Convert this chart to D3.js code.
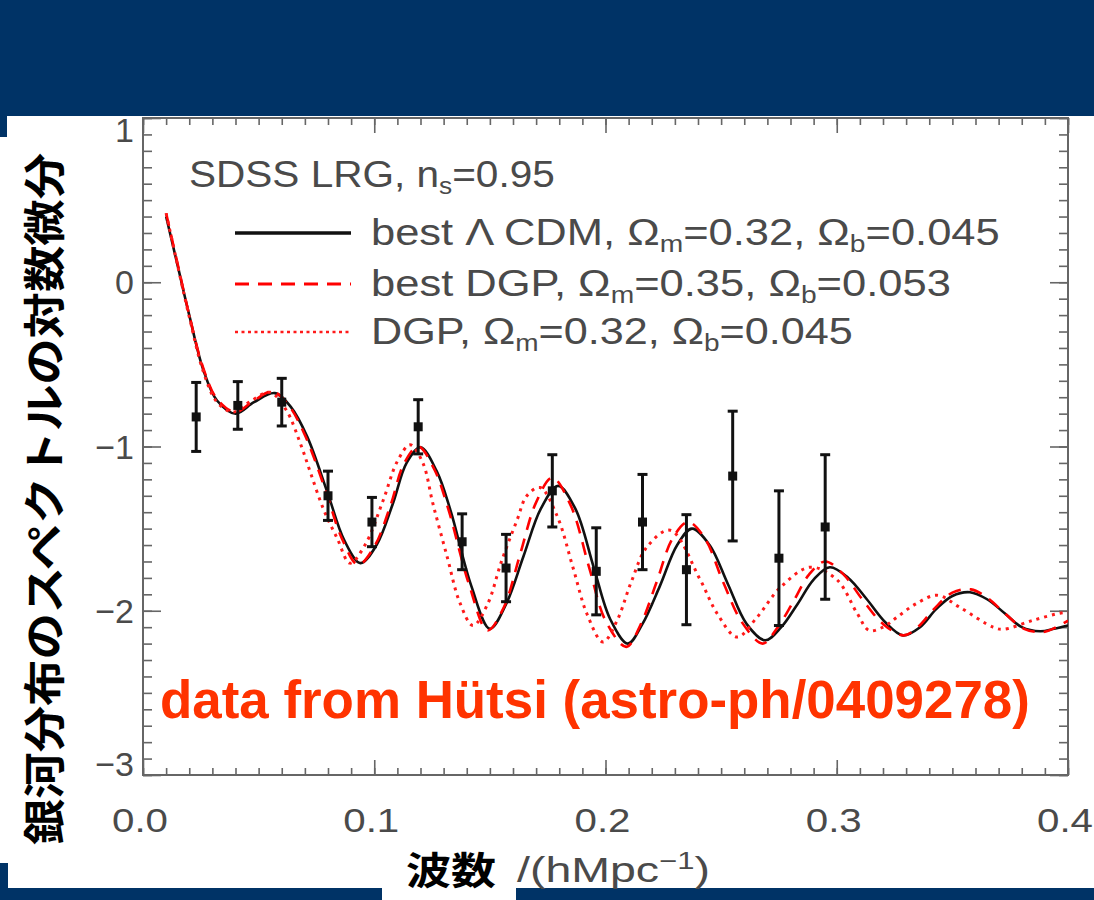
<!DOCTYPE html>
<html lang="ja">
<head>
<meta charset="UTF-8">
<title>SDSS LRG power spectrum</title>
<script src="https://d3js.org/d3.v7.min.js"></script>
<style>
  body { margin: 0; background: #fff; }
  svg { display: block; }
  .idl { font-family: "Liberation Sans", Arial, sans-serif; fill: #4a4a4a; }
</style>
</head>
<body>
<div id="chart"></div>
<script>
// ----- data -----
// SDSS LRG points (k in h/Mpc, log-derivative value, half error bar)
const dataK   = [0.023, 0.041, 0.060, 0.080, 0.099, 0.119, 0.138, 0.157, 0.177, 0.196, 0.216, 0.235, 0.255, 0.275, 0.295];
const dataV   = [-0.82, -0.75, -0.73, -1.30, -1.46, -0.88, -1.58, -1.74, -1.27, -1.76, -1.46, -1.75, -1.18, -1.68, -1.49];
const dataErr = [0.21, 0.145, 0.145, 0.15, 0.15, 0.165, 0.17, 0.205, 0.22, 0.265, 0.29, 0.335, 0.395, 0.41, 0.44];

// best LCDM, Om=0.32, Ob=0.045
const lcdmK = [0.010, 0.015, 0.020, 0.026, 0.032, 0.040, 0.048, 0.057, 0.064, 0.071, 0.080, 0.087, 0.094, 0.101, 0.108,
               0.114, 0.120, 0.127, 0.133, 0.142, 0.150, 0.157, 0.1645, 0.172, 0.1795, 0.187, 0.195, 0.202, 0.2097, 0.216,
               0.2235, 0.231, 0.2374, 0.245, 0.253, 0.261, 0.269, 0.276, 0.283, 0.290, 0.297, 0.305, 0.313, 0.321, 0.3286,
               0.336, 0.343, 0.350, 0.3576, 0.365, 0.373, 0.380, 0.388, 0.394, 0.400];
const lcdmV = [0.40, 0.10, -0.20, -0.53, -0.72, -0.80, -0.73, -0.675, -0.76, -0.94, -1.29, -1.57, -1.71, -1.60, -1.35,
               -1.10, -1.005, -1.15, -1.39, -1.85, -2.11, -1.96, -1.67, -1.38, -1.24, -1.38, -1.74, -2.05, -2.20, -2.08,
               -1.85, -1.60, -1.50, -1.60, -1.84, -2.08, -2.18, -2.10, -1.96, -1.81, -1.735, -1.80, -1.93, -2.07, -2.15,
               -2.10, -1.99, -1.91, -1.887, -1.93, -2.02, -2.10, -2.125, -2.11, -2.09];

// best DGP, Om=0.35, Ob=0.053
const dgpBestK = [0.010, 0.015, 0.020, 0.026, 0.032, 0.040, 0.048, 0.056, 0.063, 0.070, 0.079, 0.086, 0.093, 0.100, 0.107,
                  0.113, 0.119, 0.126, 0.132, 0.141, 0.149, 0.156, 0.163, 0.170, 0.177, 0.185, 0.193, 0.200, 0.209, 0.215,
                  0.222, 0.229, 0.2357, 0.243, 0.251, 0.259, 0.268, 0.274, 0.281, 0.288, 0.295, 0.303, 0.311, 0.320, 0.329,
                  0.335, 0.342, 0.350, 0.358, 0.365, 0.373, 0.381, 0.389, 0.395, 0.400];
const dgpBestV = [0.42, 0.11, -0.20, -0.52, -0.71, -0.79, -0.72, -0.665, -0.75, -0.93, -1.27, -1.56, -1.72, -1.61, -1.36,
                  -1.10, -1.00, -1.14, -1.38, -1.84, -2.12, -1.98, -1.66, -1.34, -1.19, -1.36, -1.74, -2.06, -2.22, -2.09,
                  -1.83, -1.56, -1.46, -1.56, -1.83, -2.07, -2.20, -2.11, -1.95, -1.78, -1.70, -1.78, -1.93, -2.08, -2.15,
                  -2.10, -1.99, -1.89, -1.87, -1.92, -2.02, -2.11, -2.13, -2.10, -2.06];

// DGP, Om=0.32, Ob=0.045
const dgpK = [0.010, 0.015, 0.020, 0.026, 0.032, 0.039, 0.047, 0.055, 0.062, 0.068, 0.0722, 0.078, 0.084, 0.0895, 0.096,
              0.1038, 0.110, 0.1155, 0.121, 0.1254, 0.1315, 0.137, 0.1427, 0.149, 0.155, 0.1617, 0.166, 0.1717, 0.179, 0.186,
              0.192, 0.1989, 0.205, 0.211, 0.218, 0.228, 0.2409, 0.2482, 0.2569, 0.2655, 0.2755, 0.2884, 0.300, 0.3088, 0.314,
              0.320, 0.326, 0.334, 0.3434, 0.3533, 0.3676, 0.372, 0.3849, 0.3965, 0.400];
const dgpV = [0.42, 0.10, -0.21, -0.54, -0.73, -0.79, -0.72, -0.67, -0.78, -0.98, -1.15, -1.38, -1.56, -1.71, -1.60,
              -1.33, -1.09, -0.99, -1.10, -1.35, -1.67, -1.95, -2.09, -1.96, -1.70, -1.45, -1.30, -1.25, -1.42, -1.74,
              -2.02, -2.19, -2.06, -1.83, -1.61, -1.51, -1.81, -2.015, -2.16, -2.04, -1.86, -1.735, -1.81, -2.015, -2.12,
              -2.10, -2.04, -1.96, -1.906, -1.98, -2.10, -2.113, -2.058, -2.015, -2.01];

const xTicks = [0, 0.1, 0.2, 0.3, 0.4];
const xTickLabels = ["0.0", "0.1", "0.2", "0.3", "0.4"];
const yTicks = [1, 0, -1, -2, -3];
const yTickLabels = ["1", "0", "\u22121", "\u22122", "\u22123"];

// ----- svg -----
const W = 1094, H = 900;
const navy = "#003366";
const plot = { left: 143, right: 1068, top: 118, bottom: 775 };

const svg = d3.select("#chart").append("svg")
  .attr("width", W).attr("height", H);

svg.append("rect").attr("width", W).attr("height", H).attr("fill", "#fff");

const x = d3.scaleLinear().domain([0, 0.4]).range([plot.left, plot.right]);
const y = d3.scaleLinear().domain([-3, 1]).range([plot.bottom, plot.top]);

// squeeze/stretch a text node horizontally to a measured width
function fitWidth(sel, target, ax) {
  const w = sel.node().getBBox().width;
  const s = target / w;
  sel.attr("transform", `translate(${ax},0) scale(${s},1) translate(${-ax},0)`);
}

// ----- frame and ticks -----
const frame = svg.append("g").attr("stroke", "#666").attr("fill", "none");
const minorX = d3.range(0, 0.4001, 0.01);
const minorY = d3.range(-3, 1.0001, 0.1);

function tickAxis(axis, tr) {
  const g = svg.append("g").attr("transform", tr).call(axis);
  g.select(".domain").remove();
  g.selectAll("line").attr("stroke", "#666").attr("stroke-width", 1.6);
  g.selectAll("text").remove();
  return g;
}
tickAxis(d3.axisBottom(x).tickValues(minorX).tickSize(-7), `translate(0,${plot.bottom})`);
tickAxis(d3.axisBottom(x).tickValues(xTicks).tickSize(-15), `translate(0,${plot.bottom})`);
tickAxis(d3.axisTop(x).tickValues(minorX).tickSize(-7), `translate(0,${plot.top})`);
tickAxis(d3.axisTop(x).tickValues(xTicks).tickSize(-15), `translate(0,${plot.top})`);
tickAxis(d3.axisLeft(y).tickValues(minorY).tickSize(-9), `translate(${plot.left},0)`);
tickAxis(d3.axisLeft(y).tickValues(yTicks).tickSize(-18), `translate(${plot.left},0)`);
tickAxis(d3.axisRight(y).tickValues(minorY).tickSize(-9), `translate(${plot.right},0)`);
tickAxis(d3.axisRight(y).tickValues(yTicks).tickSize(-18), `translate(${plot.right},0)`);

frame.append("rect")
  .attr("x", plot.left).attr("y", plot.top)
  .attr("width", plot.right - plot.left).attr("height", plot.bottom - plot.top)
  .attr("stroke-width", 2);

// tick labels
svg.selectAll(".xlab").data(xTicks).enter().append("text")
  .attr("class", "idl xlab")
  .attr("x", d => x(d) - 3).attr("y", 832)
  .attr("text-anchor", "middle")
  .attr("font-size", 34)
  .text((d, i) => xTickLabels[i])
  .each(function(d) { fitWidth(d3.select(this), 56, x(d) - 3); });

svg.selectAll(".ylab").data(yTicks).enter().append("text")
  .attr("class", "idl ylab")
  .attr("x", 134)
  .attr("y", d => Math.min(Math.max(y(d), 130), 764))
  .attr("dy", "0.36em")
  .attr("text-anchor", "end")
  .attr("font-size", 34)
  .text((d, i) => yTickLabels[i]);

// ----- curves -----
const clip = svg.append("clipPath").attr("id", "plotclip")
  .append("rect").attr("x", plot.left).attr("y", plot.top)
  .attr("width", plot.right - plot.left).attr("height", plot.bottom - plot.top);

const line = d3.line()
  .x(d => x(d[0])).y(d => y(d[1]))
  .curve(d3.curveCatmullRom.alpha(0.5));

const curves = svg.append("g").attr("clip-path", "url(#plotclip)").attr("fill", "none");

curves.append("path")
  .datum(d3.zip(lcdmK, lcdmV))
  .attr("d", line)
  .attr("stroke", "#111").attr("stroke-width", 2.6);

curves.append("path")
  .datum(d3.zip(dgpBestK, dgpBestV))
  .attr("d", line)
  .attr("stroke", "#ff0000").attr("stroke-width", 2.6)
  .attr("stroke-dasharray", "13,9");

curves.append("path")
  .datum(d3.zip(dgpK, dgpV))
  .attr("d", line)
  .attr("stroke", "#ff1a1a").attr("stroke-width", 3)
  .attr("stroke-dasharray", "3,5");

// ----- data with error bars -----
const pts = svg.append("g").attr("stroke", "#111").attr("stroke-width", 3);
const dataRows = dataK.map((k, i) => ({ k, v: dataV[i], e: dataErr[i] }));

pts.selectAll(".eb").data(dataRows).enter().append("line")
  .attr("x1", d => x(d.k)).attr("x2", d => x(d.k))
  .attr("y1", d => y(d.v + d.e)).attr("y2", d => y(d.v - d.e));

pts.selectAll(".capT").data(dataRows).enter().append("line")
  .attr("x1", d => x(d.k) - 5).attr("x2", d => x(d.k) + 5)
  .attr("y1", d => y(d.v + d.e)).attr("y2", d => y(d.v + d.e));

pts.selectAll(".capB").data(dataRows).enter().append("line")
  .attr("x1", d => x(d.k) - 5).attr("x2", d => x(d.k) + 5)
  .attr("y1", d => y(d.v - d.e)).attr("y2", d => y(d.v - d.e));

svg.append("g").selectAll("rect").data(dataRows).enter().append("rect")
  .attr("x", d => x(d.k) - 4.5).attr("y", d => y(d.v) - 4.5)
  .attr("width", 9).attr("height", 9)
  .attr("fill", "#111");

// ----- legend -----
const leg = svg.append("g");
const t0 = leg.append("text").attr("class", "idl").attr("x", 189).attr("y", 187).attr("font-size", 37);
t0.append("tspan").text("SDSS LRG, n");
t0.append("tspan").attr("dy", 7).attr("font-size", 24).text("s");
t0.append("tspan").attr("dy", -7).text("=0.95");
fitWidth(t0, 366, 189);

const legendRows = [
  { y: 233, name: "best \u039B CDM, ", om: "=0.32, ", ob: "=0.045", w: 629, stroke: "#111", dash: null, sw: 3.5 },
  { y: 284, name: "best DGP, ", om: "=0.35, ", ob: "=0.053", w: 580, stroke: "#ff0000", dash: "14,9", sw: 3 },
  { y: 332, name: "DGP, ", om: "=0.32, ", ob: "=0.045", w: 482, stroke: "#ff1a1a", dash: "3,3.5", sw: 2.5 }
];
legendRows.forEach(r => {
  leg.append("line")
    .attr("x1", 235).attr("x2", 351).attr("y1", r.y).attr("y2", r.y)
    .attr("stroke", r.stroke).attr("stroke-width", r.sw)
    .attr("stroke-dasharray", r.dash);
  const t = leg.append("text").attr("class", "idl")
    .attr("x", 371).attr("y", r.y + 12).attr("font-size", 37);
  t.append("tspan").text(r.name + "\u03A9");
  t.append("tspan").attr("dy", 7).attr("font-size", 24).text("m");
  t.append("tspan").attr("dy", -7).text(r.om + "\u03A9");
  t.append("tspan").attr("dy", 7).attr("font-size", 24).text("b");
  t.append("tspan").attr("dy", -7).text(r.ob);
  fitWidth(t, r.w, 371);
});

// ----- annotation -----
const note = svg.append("text")
  .attr("x", 160).attr("y", 718)
  .attr("font-family", "'Liberation Sans', Arial, sans-serif")
  .attr("font-weight", "bold").attr("font-size", 53)
  .attr("fill", "#ff3300")
  .text("data from Hütsi (astro-ph/0409278)");
fitWidth(note, 870, 160);

// ----- slide decoration -----
svg.append("rect").attr("x", 0).attr("y", 0).attr("width", W).attr("height", 116).attr("fill", navy);
svg.append("rect").attr("x", 0).attr("y", 116).attr("width", 7).attr("height", 21).attr("fill", navy);
svg.append("rect").attr("x", 0).attr("y", 863).attr("width", 8).attr("height", 37).attr("fill", navy);
svg.append("rect").attr("x", 0).attr("y", 888).attr("width", 382).attr("height", 12).attr("fill", navy);
svg.append("rect").attr("x", 516).attr("y", 888).attr("width", W - 516).attr("height", 12).attr("fill", navy);

// ----- axis titles -----
const ux = svg.append("text").attr("class", "idl")
  .attr("x", 517).attr("y", 882).attr("font-size", 36);
ux.append("tspan").text("/(hMpc");
ux.append("tspan").attr("dy", -13).attr("font-size", 24).text("\u22121");
ux.append("tspan").attr("dy", 13).text(")");
fitWidth(ux, 193, 517);

svg.append("text")
  .attr("x", 451).attr("y", 884)
  .attr("text-anchor", "middle")
  .attr("font-family", "'Noto Sans CJK JP', sans-serif")
  .attr("font-weight", "bold").attr("font-size", 38)
  .attr("textLength", 90).attr("lengthAdjust", "spacingAndGlyphs")
  .attr("fill", "#000")
  .text("波数");

svg.append("text")
  .attr("transform", "translate(41,499) rotate(-90)")
  .attr("text-anchor", "middle").attr("dominant-baseline", "central")
  .attr("font-family", "'Noto Sans CJK JP', sans-serif")
  .attr("font-weight", "bold").attr("font-size", 42)
  .attr("textLength", 692).attr("lengthAdjust", "spacingAndGlyphs")
  .attr("fill", "#000")
  .text("銀河分布のスペクトルの対数微分");
</script>
</body>
</html>
